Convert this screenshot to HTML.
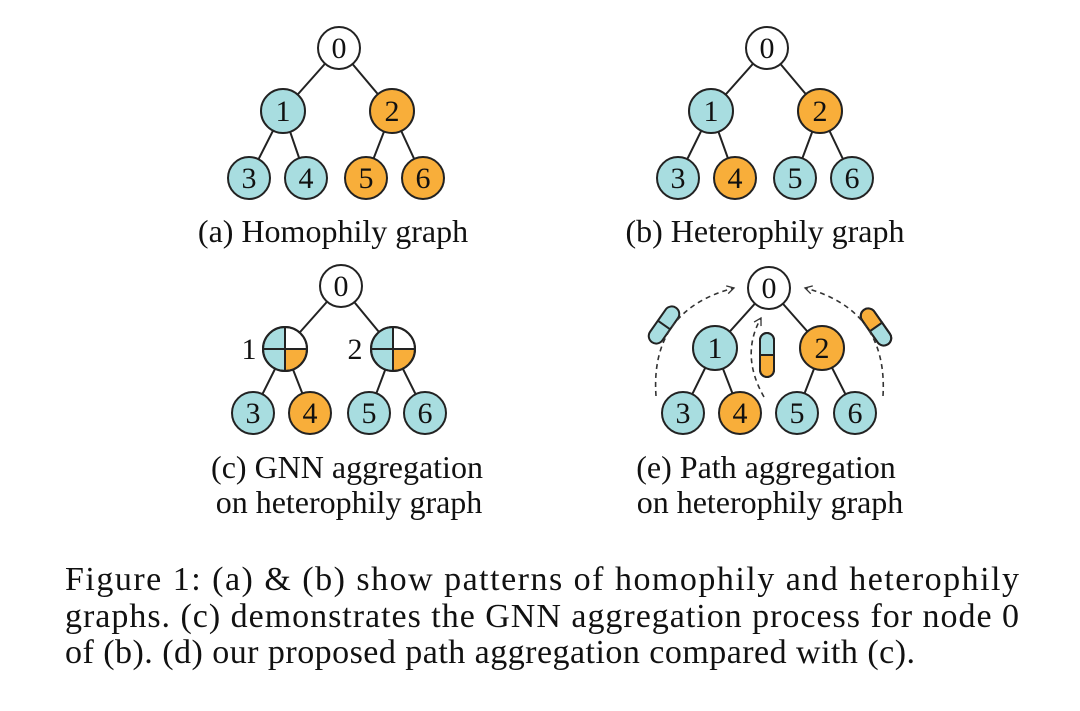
<!DOCTYPE html>
<html><head><style>
body{margin:0;background:#fff;}
svg{display:block;}
text{font-family:"Liberation Serif",serif;fill:#111;}
</style></head><body>
<svg width="1080" height="711" viewBox="0 0 1080 711">
<defs>
<marker id="ar" markerWidth="10" markerHeight="10" refX="8" refY="5" orient="auto" markerUnits="userSpaceOnUse">
<path d="M1,1 L8,5 L1,9" fill="none" stroke="#333" stroke-width="1.3"/></marker>
</defs>
<g stroke="#222" stroke-width="2" fill="none">
<path d="M339,48 L283,111 M339,48 L392,111 M283,111 L249,178 M283,111 L306,178 M392,111 L366,178 M392,111 L423,178"/>
<path d="M767,48 L711,111 M767,48 L820,111 M711,111 L678,178 M711,111 L735,178 M820,111 L795,178 M820,111 L852,178"/>
<path d="M341,286 L285,349 M341,286 L393,349 M285,349 L253,413 M285,349 L310,413 M393,349 L369,413 M393,349 L425,413"/>
<path d="M769,288 L715,348 M769,288 L822,348 M715,348 L683,413 M715,348 L740,413 M822,348 L797,413 M822,348 L855,413"/>
</g>
<g stroke="#222" stroke-width="2">
<circle cx="339" cy="48" r="21" fill="#fff"/><circle cx="283" cy="111" r="22" fill="#a8dde0"/><circle cx="392" cy="111" r="22" fill="#f8ae3a"/>
<circle cx="249" cy="178" r="21" fill="#a8dde0"/><circle cx="306" cy="178" r="21" fill="#a8dde0"/><circle cx="366" cy="178" r="21" fill="#f8ae3a"/><circle cx="423" cy="178" r="21" fill="#f8ae3a"/>
<circle cx="767" cy="48" r="21" fill="#fff"/><circle cx="711" cy="111" r="22" fill="#a8dde0"/><circle cx="820" cy="111" r="22" fill="#f8ae3a"/>
<circle cx="678" cy="178" r="21" fill="#a8dde0"/><circle cx="735" cy="178" r="21" fill="#f8ae3a"/><circle cx="795" cy="178" r="21" fill="#a8dde0"/><circle cx="852" cy="178" r="21" fill="#a8dde0"/>
<circle cx="341" cy="286" r="21" fill="#fff"/>
<circle cx="253" cy="413" r="21" fill="#a8dde0"/><circle cx="310" cy="413" r="21" fill="#f8ae3a"/><circle cx="369" cy="413" r="21" fill="#a8dde0"/><circle cx="425" cy="413" r="21" fill="#a8dde0"/>
<circle cx="769" cy="288" r="21" fill="#fff"/><circle cx="715" cy="348" r="22" fill="#a8dde0"/><circle cx="822" cy="348" r="22" fill="#f8ae3a"/>
<circle cx="683" cy="413" r="21" fill="#a8dde0"/><circle cx="740" cy="413" r="21" fill="#f8ae3a"/><circle cx="797" cy="413" r="21" fill="#a8dde0"/><circle cx="855" cy="413" r="21" fill="#a8dde0"/>
</g>
<g stroke="#222" stroke-width="2">
<g transform="translate(285,349)"><path d="M0,0 L-22,0 A22,22 0 0 1 0,-22 Z" fill="#a8dde0"/><path d="M0,0 L0,-22 A22,22 0 0 1 22,0 Z" fill="#fff"/><path d="M0,0 L22,0 A22,22 0 0 1 0,22 Z" fill="#f8ae3a"/><path d="M0,0 L0,22 A22,22 0 0 1 -22,0 Z" fill="#a8dde0"/><circle r="22" fill="none"/></g>
<g transform="translate(393,349)"><path d="M0,0 L-22,0 A22,22 0 0 1 0,-22 Z" fill="#a8dde0"/><path d="M0,0 L0,-22 A22,22 0 0 1 22,0 Z" fill="#fff"/><path d="M0,0 L22,0 A22,22 0 0 1 0,22 Z" fill="#f8ae3a"/><path d="M0,0 L0,22 A22,22 0 0 1 -22,0 Z" fill="#a8dde0"/><circle r="22" fill="none"/></g>
</g>
<g stroke="#222" stroke-width="2">
<g transform="translate(664,325) rotate(35)"><rect x="-7.5" y="-21" width="15" height="42" rx="7.5" fill="#a8dde0"/><line x1="-7.5" y1="0" x2="7.5" y2="0"/></g>
<g transform="translate(767,355)"><path d="M-7,0 L-7,-15 A7,7 0 0 1 7,-15 L7,0 Z" fill="#a8dde0"/><path d="M-7,0 L-7,15 A7,7 0 0 0 7,15 L7,0 Z" fill="#f8ae3a"/><rect x="-7" y="-22" width="14" height="44" rx="7" fill="none"/></g>
<g transform="translate(876,327) rotate(-35)"><path d="M-7.5,0 L-7.5,-13.5 A7.5,7.5 0 0 1 7.5,-13.5 L7.5,0 Z" fill="#f8ae3a"/><path d="M-7.5,0 L-7.5,13.5 A7.5,7.5 0 0 0 7.5,13.5 L7.5,0 Z" fill="#a8dde0"/><rect x="-7.5" y="-21" width="15" height="42" rx="7.5" fill="none"/></g>
</g>
<g stroke="#333" stroke-width="1.6" fill="none" stroke-dasharray="5,4">
<path d="M656,396 Q650,310 734,288" marker-end="url(#ar)"/>
<path d="M764,397 Q740,355 761,318" marker-end="url(#ar)"/>
<path d="M883,396 Q888,310 805,288" marker-end="url(#ar)"/>
</g>
<g font-size="30" text-anchor="middle">
<text x="339" y="58">0</text><text x="283" y="121">1</text><text x="392" y="121">2</text>
<text x="249" y="188">3</text><text x="306" y="188">4</text><text x="366" y="188">5</text><text x="423" y="188">6</text>
<text x="767" y="58">0</text><text x="711" y="121">1</text><text x="820" y="121">2</text>
<text x="678" y="188">3</text><text x="735" y="188">4</text><text x="795" y="188">5</text><text x="852" y="188">6</text>
<text x="341" y="296">0</text><text x="249" y="359">1</text><text x="355" y="359">2</text>
<text x="253" y="423">3</text><text x="310" y="423">4</text><text x="369" y="423">5</text><text x="425" y="423">6</text>
<text x="769" y="298">0</text><text x="715" y="358">1</text><text x="822" y="358">2</text>
<text x="683" y="423">3</text><text x="740" y="423">4</text><text x="797" y="423">5</text><text x="855" y="423">6</text>
</g>
<g font-size="32" text-anchor="middle">
<text x="333" y="242">(a) Homophily graph</text>
<text x="765" y="242">(b) Heterophily graph</text>
<text x="347" y="478">(c) GNN aggregation</text>
<text x="349" y="513">on heterophily graph</text>
<text x="766" y="478">(e) Path aggregation</text>
<text x="770" y="513">on heterophily graph</text>
</g>
<g font-size="34">
<text x="65" y="590" textLength="954" lengthAdjust="spacing">Figure 1:  (a) &amp; (b) show patterns of homophily and heterophily</text>
<text x="65" y="627" textLength="954" lengthAdjust="spacing">graphs.  (c) demonstrates the GNN aggregation process for node 0</text>
<text x="65" y="663" textLength="850" lengthAdjust="spacing">of (b). (d) our proposed path aggregation compared with (c).</text>
</g>
</svg>
</body></html>
